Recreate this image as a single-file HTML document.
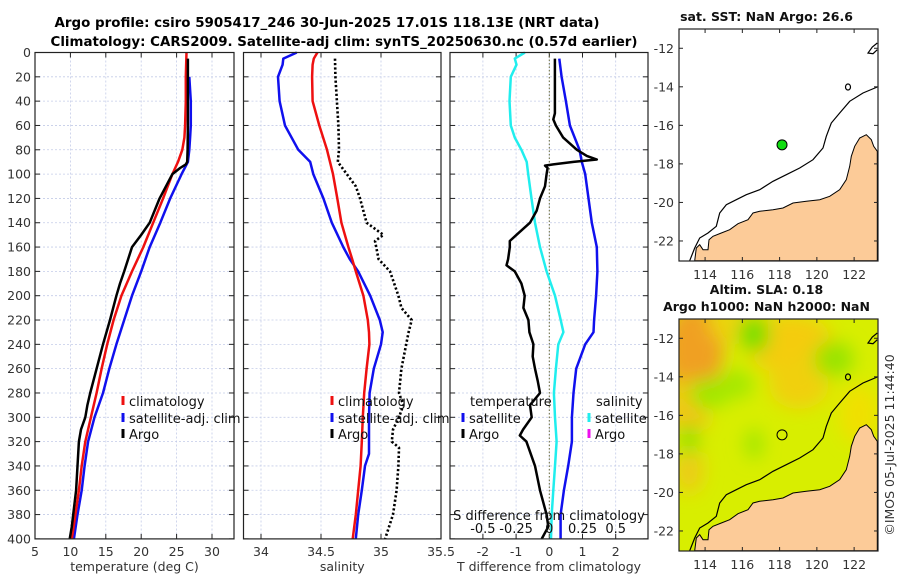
<!DOCTYPE html>
<html><head><meta charset="utf-8">
<style>
html,body{margin:0;padding:0;background:#fff;}
svg{display:block;font-family:"DejaVu Sans","Liberation Sans",sans-serif;}
</style></head>
<body>
<svg id="fig" width="900" height="580" viewBox="0 0 900 580" xmlns="http://www.w3.org/2000/svg">
  <text x="327" y="27" font-size="13" font-weight="bold" text-anchor="middle" textLength="545" lengthAdjust="spacingAndGlyphs">Argo profile: csiro 5905417_246 30-Jun-2025 17.01S 118.13E (NRT data)</text>
  <text x="344" y="46" font-size="13" font-weight="bold" text-anchor="middle" textLength="587" lengthAdjust="spacingAndGlyphs">Climatology: CARS2009. Satellite-adj clim: synTS_20250630.nc (0.57d earlier)</text>
  <g id="panels"></g>
  <g id="maps"></g>
  <text x="0" y="0" font-size="12.5" fill="#333" text-anchor="middle" transform="translate(894,445) rotate(-90)">©IMOS 05-Jul-2025 11:44:40</text>
</svg>
<script>
// ---------- data ----------
const depthT = [0,5,20,40,60,80,90,92,95,100,120,140,150,160,180,190,200,220,240,260,280,290,300,310,320,340,360,380,390,400];
const argoTemp = [null,26.6,26.6,26.6,26.6,26.55,26.5,26.3,25.5,24.4,22.6,21.2,20.0,18.7,17.6,17.0,16.5,15.6,14.6,13.7,12.8,12.4,12.1,11.5,11.2,11.0,10.8,10.4,10.2,9.9];
const climDepth = [0,20,40,60,70,80,90,100,120,140,160,180,200,220,240,260,280,300,320,340,360,380,400];
const climTemp = [26.4,26.3,26.3,26.2,26.1,25.8,25.2,24.4,23.1,21.7,20.3,18.7,17.2,16.1,15.2,14.4,13.7,12.9,12.1,11.6,11.2,10.7,10.2];
const satTemp = [null,26.8,27.0,27.0,26.9,26.8,26.6,25.7,24.1,22.7,21.2,20.0,18.7,17.6,16.5,15.5,14.6,13.4,12.5,12.0,11.6,11.0,10.5];

const salDepth = [0,5,10,20,40,60,80,90,100,120,140,160,170,180,200,220,230,240,260,280,300,320,330,340,360,380,400];
const satSal = [34.298,34.186,34.18,34.142,34.155,34.2,34.311,34.41,34.436,34.52,34.59,34.686,34.74,34.81,34.91,34.99,35.014,35.0,34.94,34.905,34.9,34.9,34.9,34.867,34.84,34.81,34.79];
const climSal = [34.47,34.44,34.43,34.426,34.43,34.486,34.55,34.575,34.6,34.636,34.67,34.728,34.76,34.79,34.853,34.89,34.9,34.903,34.88,34.86,34.848,34.84,34.835,34.83,34.81,34.79,34.764];
const argoSalDepth = [5,20,60,80,90,100,110,120,140,150,155,170,180,200,210,220,230,240,260,280,290,300,310,320,325,340,360,380,400];
const argoSal = [34.617,34.62,34.645,34.65,34.64,34.715,34.79,34.825,34.88,35.02,34.95,34.98,35.075,35.145,35.17,35.256,35.23,35.21,35.17,35.15,35.186,35.15,35.1,35.09,35.15,35.145,35.13,35.1,35.034];

const diffDepth = [5,40,50,55,60,70,80,85,88,90,92,93,95,100,110,120,130,140,150,155,160,170,175,180,190,200,210,220,230,240,250,260,270,280,290,300,310,315,320,340,360,380,390,400];
const argoTdiff = [0.17,0.17,0.17,0.12,0.2,0.42,0.83,1.13,1.43,0.73,0.12,-0.13,-0.05,-0.08,-0.13,-0.28,-0.38,-0.58,-0.99,-1.19,-1.19,-1.24,-1.29,-1.04,-0.84,-0.74,-0.78,-0.63,-0.6,-0.48,-0.5,-0.43,-0.35,-0.28,-0.58,-0.53,-0.79,-0.89,-0.69,-0.43,-0.28,-0.08,-0.03,-0.23];
const satDiffDepth = [5,20,40,60,80,90,100,120,140,160,180,200,220,230,240,260,280,300,320,340,360,380,400];
const satTdiff = [0.30,0.37,0.5,0.62,0.91,0.98,1.08,1.18,1.28,1.43,1.45,1.41,1.35,1.33,1.08,0.81,0.73,0.68,0.68,0.57,0.44,0.34,0.34];
const sDiffDepth = [0,5,10,20,40,60,70,80,90,100,120,140,160,180,200,220,230,240,260,280,300,320,340,360,380,400];
const satSdiff = [-0.184,-0.26,-0.247,-0.29,-0.30,-0.29,-0.26,-0.21,-0.17,-0.159,-0.134,-0.108,-0.07,-0.02,0.043,0.086,0.106,0.068,0.05,0.035,0.043,0.055,0.043,0.03,0.018,0.013];

const depthTicks = [0,20,40,60,80,100,120,140,160,180,200,220,240,260,280,300,320,340,360,380,400];
const tempTicks = [5,10,15,20,25,30];
const salTicks = [34,34.5,35,35.5];
const salTickLabels = ["34","34.5","35","35.5"];
const diffTicks = [-2,-1,0,1,2];
const diffTickLabels = ["-2","-1","0","1","2"];
const sDiffTicks = [-0.5,-0.25,0,0.25,0.5];
const sDiffTickLabels = ["-0.5","-0.25","0","0.25","0.5"];
const latTicks = [-12,-14,-16,-18,-20,-22];
const lonTicks = [114,116,118,120,122];
const argoLon = [118.13];
const argoLat = [-17.01];

// ---------- helpers ----------
const NS="http://www.w3.org/2000/svg";
function mk(tag, attrs, parent){const e=document.createElementNS(NS,tag);for(const k in attrs)e.setAttribute(k,attrs[k]);if(parent)parent.appendChild(e);return e;}
const Y0=52.5, YS=1.216;
function yD(d){return Y0+d*YS;}
function xT(t){return 35+(t-5)*7.08;}
function xS(s){return 261+(s-34)*120;}
function xD(v){return 549.3+v*33.2;}
const YB=yD(400);
const panelsG=document.getElementById('panels');

function linePath(xs, ys, fx){let d='';let started=false;for(let i=0;i<xs.length;i++){if(xs[i]==null)continue;d+=(started?'L':'M')+fx(xs[i]).toFixed(1)+','+yD(ys[i]).toFixed(1);started=true;}return d;}

function panel(name, xl, xr, vTicksPx, vTickLabels, vTickLabelPx, xlabel){
  const g=mk('g',{},panelsG);
  
  
  depthTicks.forEach(d=>{ if(d>0&&d<400){const l=mk('line',{x1:xl,x2:xr,y1:yD(d),y2:yD(d),stroke:'#c4cce8','stroke-width':0.8,'stroke-dasharray':'2,2'},g);
    
    }});
  vTicksPx.forEach(x=>{ if(x>xl+1&&x<xr-1){const l=mk('line',{x1:x,x2:x,y1:Y0,y2:YB,stroke:'#c4cce8','stroke-width':0.8,'stroke-dasharray':'2,2'},g);
    
    }});
  depthTicks.forEach(d=>{mk('line',{x1:xl,x2:xl+5,y1:yD(d),y2:yD(d),stroke:'#222'},g);mk('line',{x1:xr,x2:xr-5,y1:yD(d),y2:yD(d),stroke:'#222'},g);});
  vTicksPx.forEach(x=>{mk('line',{x1:x,x2:x,y1:YB,y2:YB-5,stroke:'#222'},g);mk('line',{x1:x,x2:x,y1:Y0,y2:Y0+5,stroke:'#222'},g);});
  vTickLabelPx.forEach((x,i)=>{const t=mk('text',{x:x,y:YB+17,'font-size':12.5,fill:'#333','text-anchor':'middle'},g);t.textContent=vTickLabels[i];
    
    });
  const xt=mk('text',{x:(xl+xr)/2,y:571,'font-size':12.5,fill:'#333','text-anchor':'middle'},g);xt.textContent=xlabel;
  
  
  return g;
}
function box(g,xl,xr){const r=mk('rect',{x:xl,y:Y0,width:xr-xl,height:YB-Y0,fill:'none',stroke:'#222','stroke-width':1.2},g);
  
  }
function series(g,name,xs,ys,fx,color,dash){const p=mk('path',{d:linePath(xs,ys,fx),fill:'none',stroke:color,'stroke-width':dash?2.6:2.5,'stroke-linejoin':'round'},g);if(dash)p.setAttribute('stroke-dasharray',dash);
  
  return p;}
function legendEntry(g,name,x,y,color,label){const l=mk('line',{x1:x,x2:x,y1:y-10,y2:y-1,stroke:color,'stroke-width':3},g);const t=mk('text',{x:x+6,y:y,'font-size':13,fill:'#111'},g);t.textContent=label;
  
  }

depthTicks.forEach(d=>{const t=mk('text',{x:31,y:yD(d)+4.5,'font-size':12.5,fill:'#333','text-anchor':'end'},panelsG);t.textContent=d;
  
  });

let g1=panel('temperature-panel',35,234,tempTicks.map(xT),tempTicks.map(String),tempTicks.map(xT),'temperature (deg C)');
series(g1,'temp-satellite-line',satTemp,climDepth,xT,'#1010ee');
series(g1,'temp-climatology-line',climTemp,climDepth,xT,'#ee1010');
series(g1,'temp-argo-line',argoTemp,depthT,xT,'#000');
box(g1,35,234);
legendEntry(g1,'legend-climatology',123,406,'#ee1010','climatology');
legendEntry(g1,'legend-satellite-adj',123,423,'#1010ee','satellite-adj. clim');
legendEntry(g1,'legend-argo',123,439,'#000','Argo');

let g2=panel('salinity-panel',243.5,441,salTicks.map(xS),salTickLabels,salTicks.map(xS),'salinity');
series(g2,'sal-satellite-line',satSal,salDepth,xS,'#1010ee');
series(g2,'sal-climatology-line',climSal,salDepth,xS,'#ee1010');
series(g2,'sal-argo-line',argoSal,argoSalDepth,xS,'#000','2.2,2.2');
box(g2,243.5,441);
legendEntry(g2,'legend-sal-climatology',332,406,'#ee1010','climatology');
legendEntry(g2,'legend-sal-satellite-adj',332,423,'#1010ee','satellite-adj. clim');
legendEntry(g2,'legend-sal-argo',332,439,'#000','Argo');

let g3=panel('difference-panel',450,648,diffTicks.map(xD),diffTickLabels,diffTicks.map(xD),'T difference from climatology');
const zl=mk('line',{x1:xD(0),x2:xD(0),y1:Y0,y2:YB,stroke:'#6a6a3a','stroke-width':1,'stroke-dasharray':'1.5,2'},g3);


series(g3,'tdiff-satellite-line',satTdiff,satDiffDepth,xD,'#1010ee');
series(g3,'sdiff-satellite-line',satSdiff,sDiffDepth,v=>xD(v*4),'#20eeee');
series(g3,'tdiff-argo-line',argoTdiff,diffDepth,xD,'#000');
box(g3,450,648);
let lt=mk('text',{x:470,y:406,'font-size':13,fill:'#111'},g3);lt.textContent='temperature';


let ls=mk('text',{x:596,y:406,'font-size':13,fill:'#111'},g3);ls.textContent='salinity';


legendEntry(g3,'legend-t-satellite',463,423,'#1010ee','satellite');
legendEntry(g3,'legend-t-argo',463,439,'#000','Argo');
legendEntry(g3,'legend-s-satellite',589,423,'#20eeee','satellite');
legendEntry(g3,'legend-s-argo',589,439,'#ee10ee','Argo');
let sd=mk('text',{x:549,y:520,'font-size':13,fill:'#111','text-anchor':'middle'},g3);sd.textContent='S difference from climatology';


sDiffTicks.forEach((s,i)=>{const t=mk('text',{x:xD(s*4),y:533,'font-size':13,fill:'#111','text-anchor':'middle'},g3);t.textContent=sDiffTickLabels[i];
  
  });

// ---------- maps ----------
const mapsG=document.getElementById('maps');
const MX=679, MW=199, MH=232;
function mxp(lon){return (lon-112.6)*18.63;}
function myp(lat){return (-11-lat)*19.27;}
const landPts=[[135,783],[140,745],[150,735],[160,750],[175,750],[178,720],[190,710],[215,700],[240,690],[265,672],[295,660],[310,640],[330,635],[370,630],[400,625],[430,610],[470,605],[510,600],[540,590],[570,570],[590,540],[600,500],[605,470],[615,440],[630,415],[650,405],[665,420],[672,440],[683,455],[683,783]];
const shelfPts=[[120,783],[135,745],[150,715],[175,700],[200,680],[210,640],[230,615],[260,600],[290,585],[330,570],[370,545],[410,525],[450,505],[490,480],[520,445],[530,410],[545,370],[570,340],[600,305],[640,280],[683,262]];
const islandPts=[[683,130],[668,142],[655,160],[670,162],[683,150]];
function toLocal(p){return p.map(q=>((q[0]-88)/3).toFixed(1)+','+((q[1]-88)/3).toFixed(1)).join(' ');}

function drawMap(name,y0,titles,heat){
  const g=mk('g',{transform:`translate(${MX},${y0})`},mapsG);
  
  
  const cp=mk('clipPath',{id:'clip'+name},g);mk('rect',{x:0,y:0,width:MW,height:MH},cp);
  const inner=mk('g',{'clip-path':`url(#clip${name})`},g);
  if(heat){
    const defs=mk('defs',{},g);
    const f=mk('filter',{id:'blur'+name,x:'-50%',y:'-50%',width:'200%',height:'200%'},defs);mk('feGaussianBlur',{stdDeviation:9},f);
    mk('rect',{x:0,y:0,width:MW,height:MH,fill:'#d8ee00'},inner);
    const hg=mk('g',{filter:`url(#blur${name})`},inner);
    const blobs=[[15,30,30,45,'#f0a020'],[10,90,20,30,'#f3c414'],[110,25,45,30,'#f4cc10'],[120,65,30,25,'#f0d010'],[60,5,30,20,'#ecd410'],[10,150,15,25,'#eccc18'],[75,15,15,18,'#6ee000'],[30,75,20,15,'#9ee800'],[57,65,18,15,'#a4e800'],[155,40,20,18,'#98e400'],[10,120,10,15,'#8ae400'],[75,125,8,15,'#96e600'],[180,95,20,30,'#f0e000']];
    blobs.forEach(b=>mk('ellipse',{cx:b[0],cy:b[1],rx:b[2],ry:b[3],fill:b[4]},hg));
  }
  const land=mk('polygon',{points:toLocal(landPts),fill:'#fccb98',stroke:'#000','stroke-width':1},inner);
  
  
  const shelf=mk('polyline',{points:toLocal(shelfPts),fill:'none',stroke:'#000','stroke-width':1.2},inner);
  
  
  mk('polyline',{points:toLocal(islandPts),fill:'none',stroke:'#000','stroke-width':1.2},inner);
  mk('ellipse',{cx:(595-88)/3,cy:(262-88)/3,rx:2.5,ry:3,fill:'none',stroke:'#000','stroke-width':1.2},inner);
  argoLon.forEach((lo,i)=>{const c=mk('circle',{cx:mxp(lo),cy:myp(argoLat[i]),r:5,fill:heat?'none':'#10dd10',stroke:'#000','stroke-width':1},inner);
    
    });
  mk('rect',{x:0,y:0,width:MW,height:MH,fill:'none',stroke:'#222','stroke-width':1.2},g);
  latTicks.forEach(la=>{const y=myp(la);mk('line',{x1:0,x2:4,y1:y,y2:y,stroke:'#222'},g);mk('line',{x1:MW,x2:MW-4,y1:y,y2:y,stroke:'#222'},g);
    const t=mk('text',{x:-5,y:y+4.5,'font-size':12.5,fill:'#333','text-anchor':'end'},g);t.textContent=la;
    
    });
  lonTicks.forEach(lo=>{const x=mxp(lo);mk('line',{x1:x,x2:x,y1:MH,y2:MH-4,stroke:'#222'},g);mk('line',{x1:x,x2:x,y1:0,y2:4,stroke:'#222'},g);
    const t=mk('text',{x:x,y:MH+18,'font-size':12.5,fill:'#333','text-anchor':'middle'},g);t.textContent=lo;
    
    });
  titles.forEach((s,i)=>{const t=mk('text',{x:MW/2-12,y:-8-(titles.length-1-i)*17,'font-size':12.5,'font-weight':'bold','text-anchor':'middle',fill:'#111'},g);t.textContent=s;
    
    });
}
drawMap('sst-map',29,['sat. SST: NaN Argo: 26.6'],false);
drawMap('sla-map',319,['Altim. SLA: 0.18','Argo h1000: NaN h2000: NaN'],true);
</script>
</body></html>
